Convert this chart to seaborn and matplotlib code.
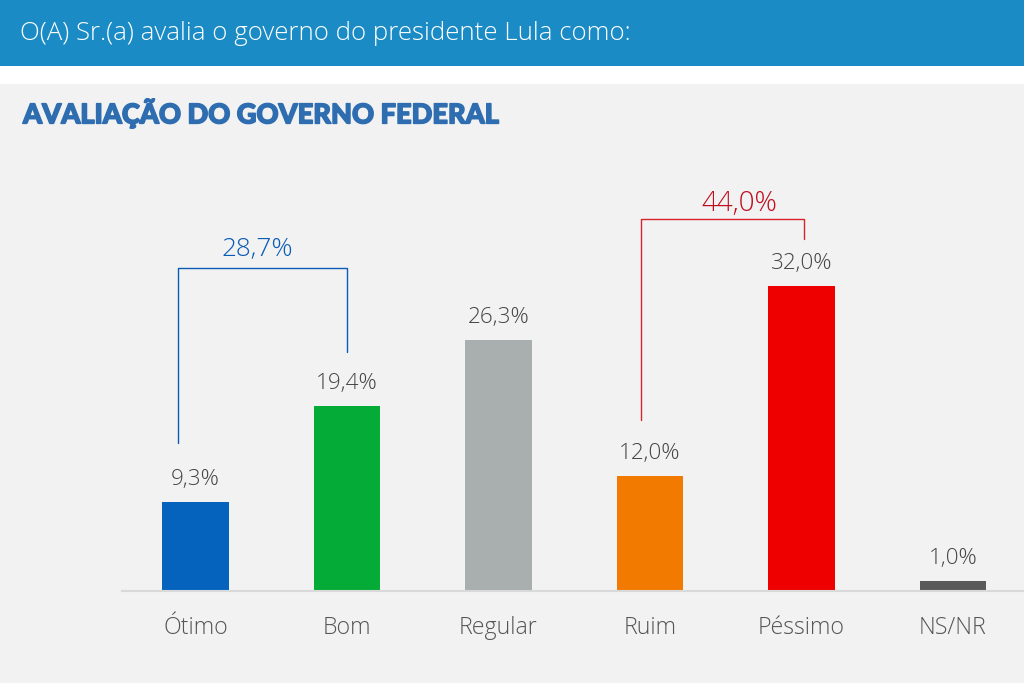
import matplotlib
matplotlib.use("Agg")
import matplotlib.pyplot as plt
import matplotlib.patheffects as pe
from matplotlib.patches import Rectangle
import pandas as pd
import seaborn as sns

categories = ["Ótimo", "Bom", "Regular", "Ruim", "Péssimo", "NS/NR"]
values = [9.3, 19.4, 26.3, 12.0, 32.0, 1.0]
value_labels = ["9,3%", "19,4%", "26,3%", "12,0%", "32,0%", "1,0%"]
bar_colors = ["#0563BE", "#04AB37", "#A9AEAE", "#F27A00", "#EE0000", "#5A5A5A"]
question = "O(A) Sr.(a) avalia o governo do presidente Lula como:"
title = "AVALIAÇÃO DO GOVERNO FEDERAL"
positive_label = "28,7%"
negative_label = "44,0%"

sns.set_theme(style="white")
plt.rcParams["font.family"] = ["Open Sans", "DejaVu Sans"]

W, H = 1024, 683
BG = "#F2F2F3"
TXT = "#444444"

fig = plt.figure(figsize=(W / 100, H / 100), dpi=100, facecolor="white")

# page bands, kept behind the axes
fig.add_artist(Rectangle((0, 1 - 66 / H), 1, 66 / H, transform=fig.transFigure, color="#1A8BC5", lw=0, zorder=-2))
fig.add_artist(Rectangle((0, 0), 1, 1 - 84 / H, transform=fig.transFigure, color=BG, lw=0, zorder=-2))
fig.text(20 / W, 1 - 34 / H, question, color="white", fontsize=18.6, va="center", ha="left", fontweight="light")
title_text = fig.text(23 / W, 1 - 113 / H, title, color="#2E6DB0", fontsize=19.6, va="center", ha="left",
                      family="Lato", fontweight="black")
title_text.set_path_effects([pe.withStroke(linewidth=1.1, foreground="#2E6DB0")])

# axis baseline at y=590.5, one unit of the value scale = 9.52 px
ax = fig.add_axes([122 / W, 1 - 590.5 / H, (W - 122) / W, 440 / H])
ax.patch.set_alpha(0)
df = pd.DataFrame({"categoria": categories, "valor": values})
sns.barplot(data=df, x="categoria", y="valor", hue="categoria", palette=bar_colors,
            width=0.44, saturation=1, legend=False, linewidth=0, ax=ax)
ax.set_xlim(-0.485, 5.469)
ax.set_ylim(0, 440 / 9.52)
ax.set_xlabel("")
ax.set_ylabel("")
ax.set_yticks([])
sns.despine(ax=ax, left=True, right=True, top=True)
ax.spines["bottom"].set_color("#D9D9D9")
ax.spines["bottom"].set_linewidth(1.5)
ax.tick_params(axis="x", length=0, pad=18, labelsize=16.7, labelcolor="#555555")
for lab in ax.get_xticklabels():
    lab.set_fontweight("light")

for i, v in enumerate(values):
    ax.text(i, v + 1.25, value_labels[i], ha="center", va="bottom", fontsize=16.2, color=TXT, fontweight="light")

# brackets grouping positive and negative answers
ax.plot([-0.115, -0.115, 1, 1], [15.5, 33.9, 33.9, 25.05], color="#0B5CB5", lw=1, clip_on=False)
ax.text(0.405, 34.5, positive_label, color="#0B5CB5", fontsize=18.8, ha="center", va="bottom", fontweight="light")
ax.plot([2.94, 2.94, 4.016, 4.016], [17.9, 39.0, 39.0, 36.9], color="#D8232A", lw=1, clip_on=False)
ax.text(3.59, 39.1, negative_label, color="#C00D1E", fontsize=20, ha="center", va="bottom", fontweight="light")

fig.savefig("out.png", dpi=100, facecolor=fig.get_facecolor())
